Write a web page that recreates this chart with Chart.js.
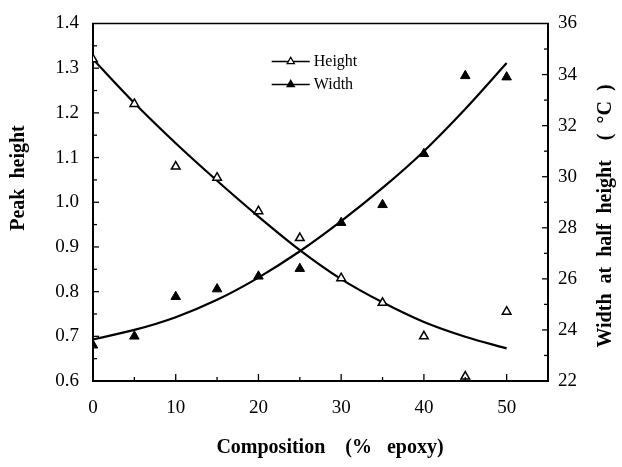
<!DOCTYPE html>
<html>
<head>
<meta charset="utf-8">
<script src="https://cdn.jsdelivr.net/npm/chart.js@4.4.1/dist/chart.umd.min.js"></script>
<style>
  html, body { margin: 0; padding: 0; background: #ffffff; }
  #wrap { width: 622px; height: 467px; position: relative; }
</style>
</head>
<body>
<div id="wrap"><canvas id="c" width="622" height="467"></canvas></div>
<script>
// ---- data ----
const compositions = [0, 5, 10, 15, 20, 25, 30, 35, 40, 45, 50];          // % epoxy
const peakHeight   = [1.32, 1.22, 1.08, 1.055, 0.98, 0.92, 0.83, 0.775, 0.70, 0.61, 0.755];
const halfWidth    = [23.4, 23.75, 25.3, 25.6, 26.1, 26.4, 28.2, 28.9, 30.9, 33.95, 33.9]; // °C
const peakHeightFit = [1.32, 1.222, 1.132, 1.048, 0.968, 0.893, 0.828, 0.776, 0.732, 0.699, 0.673];
const halfWidthFit  = [23.63, 24.0, 24.5, 25.18, 26.05, 27.08, 28.26, 29.56, 31.0, 32.65, 34.45];
const leftTicks  = [0.6, 0.7, 0.8, 0.9, 1.0, 1.1, 1.2, 1.3, 1.4];
const rightTicks = [22, 24, 26, 28, 30, 32, 34, 36];
const xTickLabels = [0, 10, 20, 30, 40, 50];
const seriesNames = ['Height', 'Width'];
const xTitle = 'Composition    (%   epoxy)';
const yTitle = 'Peak  height';
const y2Title = 'Width  at  half  height    (  °C  )';

const pts = (xs, ys) => xs.map((x, i) => ({ x: x, y: ys[i] }));

const SERIF = '"Liberation Serif", "Times New Roman", serif';

// inward tick marks, top frame line, axis titles and in-plot legend
const decor = {
  id: 'decor',
  afterDraw(chart) {
    const ctx = chart.ctx;
    const a = chart.chartArea;
    const sx = chart.scales.x, sy = chart.scales.y, sy2 = chart.scales.y2;
    ctx.save();
    ctx.strokeStyle = '#000';
    ctx.lineWidth = 1.6;
    // top frame line
    ctx.beginPath();
    ctx.moveTo(a.left - 1, a.top); ctx.lineTo(a.right + 1, a.top);
    ctx.stroke();
    // left axis ticks (every 0.05, major every 0.1)
    ctx.lineWidth = 1.3;
    for (let v = 0.65; v < 1.4; v += 0.05) {
      const y = sy.getPixelForValue(v);
      const major = leftTicks.some(t => Math.abs(t - v) < 1e-6);
      ctx.beginPath(); ctx.moveTo(a.left, y); ctx.lineTo(a.left + (major ? 6 : 4), y); ctx.stroke();
    }
    // right axis ticks (every 1 °C)
    for (let v = 23; v < 36; v += 1) {
      const y = sy2.getPixelForValue(v);
      const major = rightTicks.includes(v);
      ctx.beginPath(); ctx.moveTo(a.right, y); ctx.lineTo(a.right - (major ? 6 : 4), y); ctx.stroke();
    }
    // bottom axis ticks (every 5, major every 10)
    for (let v = 5; v <= 50; v += 5) {
      const x = sx.getPixelForValue(v);
      const major = xTickLabels.includes(v);
      ctx.beginPath(); ctx.moveTo(x, a.bottom); ctx.lineTo(x, a.bottom - (major ? 7 : 4)); ctx.stroke();
    }
    // axis titles
    ctx.fillStyle = '#000';
    ctx.font = 'bold 20px ' + SERIF;
    ctx.textAlign = 'center';
    ctx.textBaseline = 'middle';
    ctx.fillText(xTitle, 330, 448);
    ctx.save(); ctx.translate(19, 178); ctx.rotate(-Math.PI / 2); ctx.fillText(yTitle, 0, 0); ctx.restore();
    ctx.save(); ctx.translate(606, 216); ctx.rotate(-Math.PI / 2); ctx.fillText(y2Title, 0, 0); ctx.restore();
    // legend
    const lx0 = sx.getPixelForValue(21.6), lx1 = sx.getPixelForValue(26.2);
    const rows = [
      { y: a.top + 38, fill: '#ffffff', label: seriesNames[0] },
      { y: a.top + 61, fill: '#000000', label: seriesNames[1] }
    ];
    ctx.font = '16px ' + SERIF;
    ctx.textAlign = 'left';
    rows.forEach(r => {
      ctx.lineWidth = 1.5;
      ctx.beginPath(); ctx.moveTo(lx0, r.y); ctx.lineTo(lx1, r.y); ctx.stroke();
      const cx = (lx0 + lx1) / 2, rad = 4.2;
      ctx.beginPath();
      ctx.moveTo(cx, r.y - rad);
      ctx.lineTo(cx + rad * 0.866, r.y + rad * 0.5);
      ctx.lineTo(cx - rad * 0.866, r.y + rad * 0.5);
      ctx.closePath();
      ctx.fillStyle = r.fill; ctx.fill();
      ctx.lineWidth = 1.3; ctx.stroke();
      ctx.fillStyle = '#000';
      ctx.fillText(r.label, lx1 + 4, r.y);
    });
    ctx.restore();
  }
};

new Chart(document.getElementById('c'), {
  type: 'scatter',
  data: {
    datasets: [
      {
        label: seriesNames[0], data: pts(compositions, peakHeight), yAxisID: 'y',
        pointStyle: 'triangle', pointRadius: 5, pointBorderWidth: 1.5,
        pointBackgroundColor: '#ffffff', pointBorderColor: '#000', showLine: false, order: 0
      },
      {
        label: seriesNames[1], data: pts(compositions, halfWidth), yAxisID: 'y2',
        pointStyle: 'triangle', pointRadius: 5.5, pointBorderWidth: 1,
        pointBackgroundColor: '#000', pointBorderColor: '#000', showLine: false, order: 0
      },
      {
        label: seriesNames[0] + ' fit', data: pts(compositions, peakHeightFit), yAxisID: 'y',
        showLine: true, borderColor: '#000', borderWidth: 2.2, pointRadius: 0,
        cubicInterpolationMode: 'monotone', fill: false, order: 1
      },
      {
        label: seriesNames[1] + ' fit', data: pts(compositions, halfWidthFit), yAxisID: 'y2',
        showLine: true, borderColor: '#000', borderWidth: 2.2, pointRadius: 0,
        cubicInterpolationMode: 'monotone', fill: false, order: 1
      }
    ]
  },
  options: {
    responsive: false,
    animation: false,
    devicePixelRatio: 1,
    layout: { padding: { top: 21, left: 0, right: 0, bottom: 0 } },
    plugins: { legend: { display: false }, tooltip: { enabled: false } },
    scales: {
      x: {
        type: 'linear', min: 0, max: 55,
        grid: { display: false, drawTicks: false },
        border: { display: true, color: '#000', width: 2 },
        ticks: {
          stepSize: 5, autoSkip: false, padding: 18, color: '#000',
          font: { family: SERIF, size: 19, lineHeight: 1 },
          callback: v => xTickLabels.includes(v) ? String(v) : ''
        },
        title: { display: false, text: xTitle },
        afterFit: s => { s.height = 86; }
      },
      y: {
        type: 'linear', position: 'left', min: 0.6, max: 1.4,
        grid: { display: false, drawTicks: false },
        border: { display: true, color: '#000', width: 2 },
        ticks: {
          stepSize: 0.1, autoSkip: false, padding: 14, color: '#000',
          font: { family: SERIF, size: 19, lineHeight: 1 },
          callback: v => v.toFixed(1)
        },
        title: { display: false, text: yTitle },
        afterFit: s => { s.width = 93; }
      },
      y2: {
        type: 'linear', position: 'right', min: 22, max: 36,
        grid: { display: false, drawTicks: false },
        border: { display: true, color: '#000', width: 2 },
        ticks: {
          stepSize: 2, autoSkip: false, padding: 10, color: '#000',
          font: { family: SERIF, size: 19, lineHeight: 1 },
          callback: v => String(v)
        },
        title: { display: false, text: y2Title },
        afterFit: s => { s.width = 74; }
      }
    }
  },
  plugins: [decor]
});
</script>
</body>
</html>
